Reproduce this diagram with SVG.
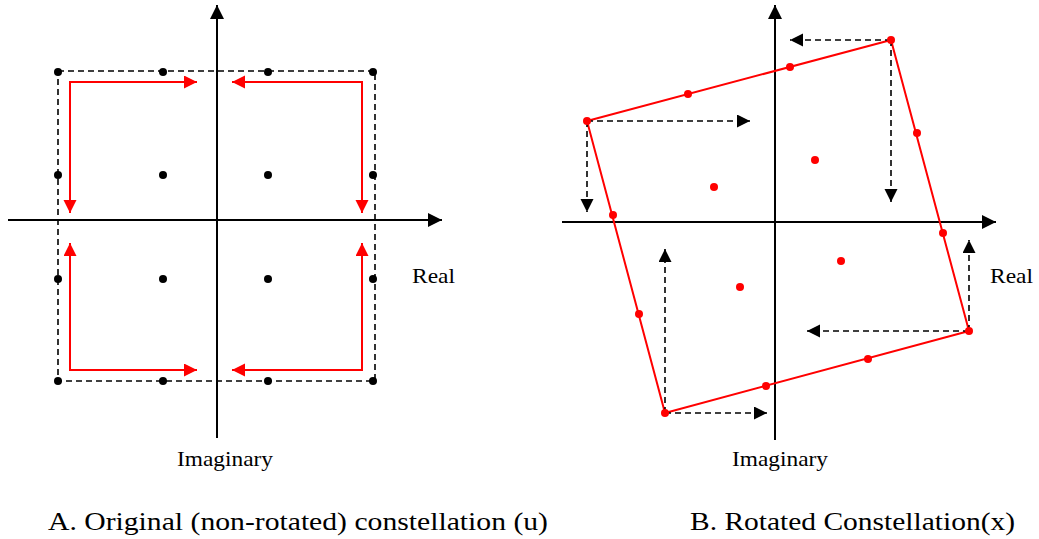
<svg xmlns="http://www.w3.org/2000/svg" width="1039" height="539" viewBox="0 0 1039 539">
<style>
.axis{stroke:#000;stroke-width:2;fill:none}
.dash{stroke:#000;stroke-width:1.6;stroke-dasharray:6,4;fill:none}
.red{stroke:#ff0000;stroke-width:2;fill:none}
.bd{fill:#000}
.rd{fill:#ff0000}
.lbl{font-family:"Liberation Serif",serif;font-size:21px;fill:#000}
.cap{font-family:"Liberation Serif",serif;font-size:26px;fill:#000}
</style>
<defs>
<marker id="ak" markerUnits="userSpaceOnUse" markerWidth="16" markerHeight="14" refX="14" refY="7" orient="auto"><path d="M0,0 L14,7 L0,14 Z" fill="#000"/></marker>
<marker id="dk" markerUnits="userSpaceOnUse" markerWidth="14" markerHeight="14" refX="13" refY="6.5" orient="auto"><path d="M0,0 L13,6.5 L0,13 Z" fill="#000"/></marker>
<marker id="rk" markerUnits="userSpaceOnUse" markerWidth="14" markerHeight="14" refX="13" refY="6.5" orient="auto"><path d="M0,0 L13,6.5 L0,13 Z" fill="#ff0000"/></marker>
</defs>

<g id="panelA">
<g id="connectorsA">
<line class="axis" x1="217" y1="438" x2="217" y2="5" marker-end="url(#ak)"/>
<line class="axis" x1="8" y1="220" x2="442" y2="220" marker-end="url(#ak)"/>
<rect class="dash" x="58" y="71" width="317" height="310"/>
<line class="red" x1="69" y1="82" x2="197" y2="82" marker-end="url(#rk)"/>
<line class="red" x1="70" y1="81" x2="70" y2="213" marker-end="url(#rk)"/>
<line class="red" x1="363" y1="82" x2="232" y2="82" marker-end="url(#rk)"/>
<line class="red" x1="362" y1="81" x2="362" y2="213" marker-end="url(#rk)"/>
<line class="red" x1="70" y1="371" x2="70" y2="243" marker-end="url(#rk)"/>
<line class="red" x1="69" y1="370" x2="197" y2="370" marker-end="url(#rk)"/>
<line class="red" x1="362" y1="371" x2="362" y2="243" marker-end="url(#rk)"/>
<line class="red" x1="363" y1="370" x2="232" y2="370" marker-end="url(#rk)"/>
</g>
<g id="dotsA">
<circle class="bd" cx="58" cy="72" r="4"/><circle class="bd" cx="163" cy="72" r="4"/><circle class="bd" cx="268" cy="72" r="4"/><circle class="bd" cx="373" cy="72" r="4"/>
<circle class="bd" cx="58" cy="175" r="4"/><circle class="bd" cx="163" cy="175" r="4"/><circle class="bd" cx="268" cy="175" r="4"/><circle class="bd" cx="373" cy="175" r="4"/>
<circle class="bd" cx="58" cy="279" r="4"/><circle class="bd" cx="163" cy="279" r="4"/><circle class="bd" cx="268" cy="279" r="4"/><circle class="bd" cx="373" cy="279" r="4"/>
<circle class="bd" cx="58" cy="381" r="4"/><circle class="bd" cx="163" cy="381" r="4"/><circle class="bd" cx="268" cy="381" r="4"/><circle class="bd" cx="373" cy="381" r="4"/>
</g>
<text class="lbl" x="412" y="283" textLength="43" lengthAdjust="spacingAndGlyphs">Real</text>
<text class="lbl" x="177" y="466" textLength="96" lengthAdjust="spacingAndGlyphs">Imaginary</text>
<text class="cap" x="48" y="530" textLength="500" lengthAdjust="spacingAndGlyphs">A. Original (non-rotated) constellation (u)</text>
</g>

<g id="panelB">
<g id="connectorsB">
<line class="axis" x1="775" y1="440" x2="775" y2="5" marker-end="url(#ak)"/>
<line class="axis" x1="562" y1="222" x2="996" y2="222" marker-end="url(#ak)"/>
<polygon class="red" points="587,121 891,40 969,331 665,413"/>
<line class="dash" x1="587" y1="121" x2="750" y2="121" marker-end="url(#dk)"/>
<line class="dash" x1="587" y1="121" x2="587" y2="212" marker-end="url(#dk)"/>
<line class="dash" x1="891" y1="40" x2="790" y2="40" marker-end="url(#dk)"/>
<line class="dash" x1="891" y1="40" x2="891" y2="202" marker-end="url(#dk)"/>
<line class="dash" x1="969" y1="331" x2="807" y2="331" marker-end="url(#dk)"/>
<line class="dash" x1="969" y1="331" x2="969" y2="240" marker-end="url(#dk)"/>
<line class="dash" x1="665" y1="413" x2="665" y2="249" marker-end="url(#dk)"/>
<line class="dash" x1="665" y1="413" x2="767" y2="413" marker-end="url(#dk)"/>
</g>
<g id="dotsB">
<circle class="rd" cx="587" cy="121" r="4"/><circle class="rd" cx="688" cy="94" r="4"/><circle class="rd" cx="790" cy="67" r="4"/><circle class="rd" cx="891" cy="40" r="4"/>
<circle class="rd" cx="613" cy="215" r="4"/><circle class="rd" cx="714" cy="187" r="4"/><circle class="rd" cx="815" cy="160" r="4"/><circle class="rd" cx="917" cy="133" r="4"/>
<circle class="rd" cx="639" cy="314" r="4"/><circle class="rd" cx="740" cy="287" r="4"/><circle class="rd" cx="841" cy="261" r="4"/><circle class="rd" cx="943" cy="233" r="4"/>
<circle class="rd" cx="665" cy="413" r="4"/><circle class="rd" cx="766" cy="386" r="4"/><circle class="rd" cx="868" cy="359" r="4"/><circle class="rd" cx="969" cy="331" r="4"/>
</g>
<text class="lbl" x="990" y="283" textLength="43" lengthAdjust="spacingAndGlyphs">Real</text>
<text class="lbl" x="732" y="466" textLength="96" lengthAdjust="spacingAndGlyphs">Imaginary</text>
<text class="cap" x="690" y="530" textLength="325" lengthAdjust="spacingAndGlyphs">B. Rotated Constellation(x)</text>
</g>
</svg>
